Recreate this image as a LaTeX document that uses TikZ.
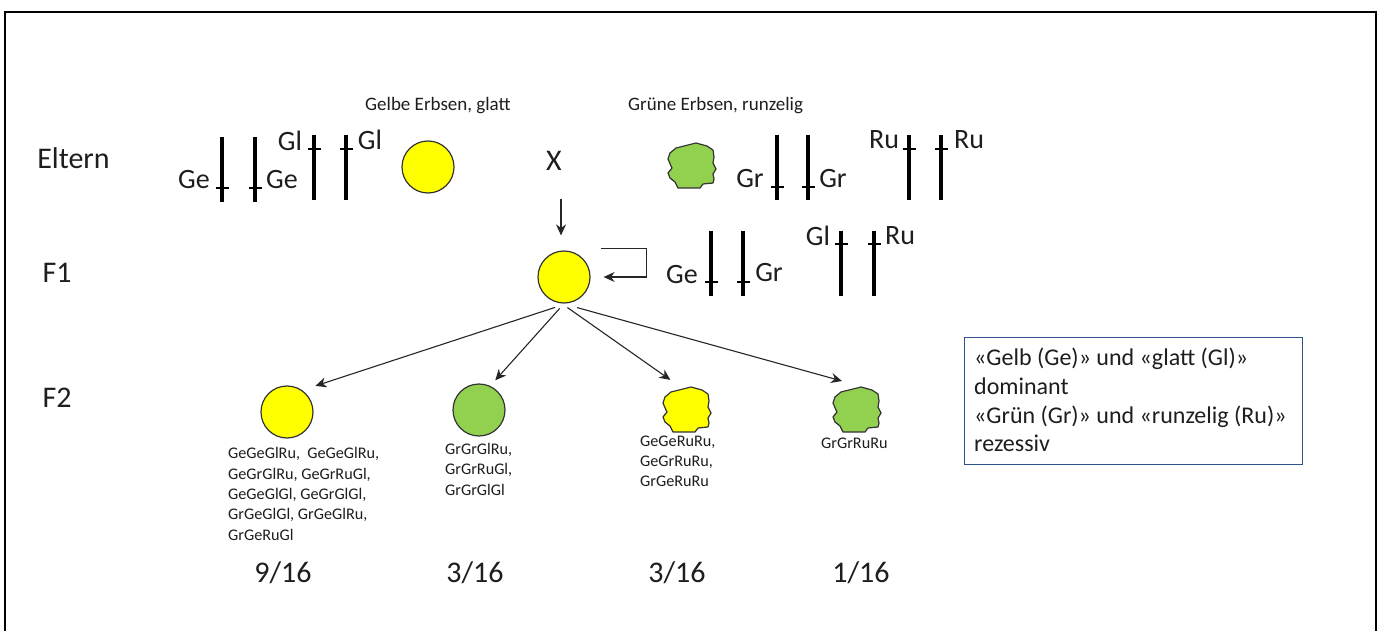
\documentclass[tikz,border=0pt]{standalone}
\usepackage{fontspec}
\setmainfont{Carlito}
\usetikzlibrary{arrows.meta}
\definecolor{leaf}{HTML}{92D050}
\definecolor{peayellow}{HTML}{FFFF00}
\definecolor{ink}{HTML}{1E1E1E}
\definecolor{boxblue}{HTML}{2F528F}
\tikzset{
  x=1pt,y=-1pt,
  big/.style={font=\fontsize{30}{30}\selectfont,text=ink,inner sep=0pt},
  mid/.style={font=\fontsize{28}{28}\selectfont,text=ink,inner sep=0pt},
  small/.style={font=\fontsize{16.2}{20.3}\selectfont,text=ink,inner sep=0pt,align=left,anchor=north west},
  title/.style={font=\fontsize{19}{19}\selectfont,text=ink,inner sep=0pt,anchor=west},
  pea/.style={circle,draw=black!80,line width=1.2pt,minimum size=52pt,inner sep=0pt},
  blobline/.style={draw=black!80,line width=1.2pt,line join=round},
  conn/.style={draw=black!85,line width=1.1pt,-{Stealth[length=11pt,width=10pt]}},
  bar/.style={line width=3.6pt,black},
  tick/.style={line width=1.2pt,black}
}
\newcommand{\chrom}[4]{%
  \draw[bar] (#1,#2) -- ++(0,65);
  \draw[tick] (#1-6.5+#4,#3) -- ++(13,0);
}
\newcommand{\blob}[4]{%
  \node[circle,minimum size=46pt,inner sep=0pt] (#1) at (#2,#3) {};
  \begin{scope}[shift={(#2,#3)}]
    \draw[blobline,fill=#4] (-22,-12) -- (-16,-17) -- (4,-22) -- (15,-19) -- (21,-15) -- (22,-8) -- (21,-2) -- (24,4) -- (21,9) -- (22,14) -- (21,18) -- (11,19) -- (8,23) -- (-14,23) -- (-17,17) -- (-22,13) -- (-24,8) -- (-20,3) -- (-21,1) -- (-24,-6) -- cycle;
  \end{scope}
}
\begin{document}
\begin{tikzpicture}
\useasboundingbox (0,0) rectangle (1379,631);
\fill[white] (0,0) rectangle (1379,631);
\draw[line width=1.4pt,black] (5,640) -- (5,12) -- (1376,12) -- (1376,640);

% row labels
\node[big] (eltern) at (73.5,158) {Eltern};
\node[big] (f1lab) at (57,273) {F1};
\node[big] (f2lab) at (57,398) {F2};

% titles
\node[title] (t1) at (365,105.5) {Gelbe Erbsen, glatt};
\node[title] (t2) at (628,105.5) {Grüne Erbsen, runzelig};

% parents left
\chrom{222}{137}{188}{0}
\chrom{255}{137}{188}{0}
\chrom{314}{135}{149}{0}
\chrom{346}{135}{149}{0}
\node[mid] (a1) at (194,180) {Ge};
\node[mid] (a2) at (282,180) {Ge};
\node[mid] (a3) at (290,141) {Gl};
\node[mid] (a4) at (370,140) {Gl};

% parents right
\chrom{777}{135}{187}{0}
\chrom{808}{135}{187}{0}
\chrom{909}{135}{149}{0}
\chrom{941}{135}{149}{0}
\node[mid] (b1) at (750,179) {Gr};
\node[mid] (b2) at (833,179) {Gr};
\node[mid] (b3) at (884,140) {Ru};
\node[mid] (b4) at (969,140) {Ru};

% F1 chromosomes
\chrom{711}{231}{282}{0}
\chrom{743}{231}{282}{0}
\chrom{841}{231}{244}{0}
\chrom{874}{231}{244}{0}
\node[mid] (c1) at (682,275) {Ge};
\node[mid] (c2) at (769,273) {Gr};
\node[mid] (c3) at (818,236) {Gl};
\node[mid] (c4) at (900,236) {Ru};

% peas
\node[pea,fill=peayellow] (p1) at (428,167) {};
\blob{p2}{692}{165}{leaf}
\node[big] (xlab) at (554,161) {X};
\node[pea,fill=peayellow] (f1) at (564,277) {};
\node[pea,fill=peayellow] (fa) at (287,412) {};
\node[pea,fill=leaf] (fb) at (479,410) {};
\blob{fc}{687}{409}{peayellow}
\blob{fd}{857}{409}{leaf}

% connectors
\coordinate (xa) at (561,199);
\draw[conn,shorten >=15pt] (xa) -- (xa |- f1.north);
\draw[conn] ([xshift=17pt,yshift=11pt]f1.40) -- ++(45,0) |- ([xshift=13pt]f1.east);
\draw[conn,shorten <=12.8pt,shorten >=13.9pt] (f1.277) -- (fa.55);
\draw[conn,shorten <=6.4pt,shorten >=7.5pt] (f1.270) -- (fb.65);
\draw[conn,shorten <=7pt,shorten >=12pt] (f1.265) -- (fc.107);
\draw[conn,shorten <=15pt,shorten >=18.5pt] (f1.267) -- (fd.83);

% genotype lists
\node[small] (ga) at (228,447.5) {GeGeGlRu,\ \ GeGeGlRu,\\GeGrGlRu, GeGrRuGl,\\GeGeGlGl, GeGrGlGl,\\GrGeGlGl, GrGeGlRu,\\GrGeRuGl};
\node[small] (gb) at (445,443) {GrGrGlRu,\\GrGrRuGl,\\GrGrGlGl};
\node[small] (gc) at (640,435.5) {GeGeRuRu,\\GeGrRuRu,\\GrGeRuRu};
\node[small] (gd) at (821,437.5) {GrGrRuRu};

% ratios
\node[big] (r1) at (283,573) {9/16};
\node[big] (r2) at (475,573) {3/16};
\node[big] (r3) at (677,573) {3/16};
\node[big] (r4) at (861,573) {1/16};

% legend
\node[draw=boxblue,line width=1pt,anchor=north west,minimum width=338pt,minimum height=127pt,inner sep=0pt] (legend) at (964,337) {};
\node[anchor=north west,inner sep=0pt,align=left,text=ink,font=\fontsize{24}{28.7}\selectfont] (legtext) at (974,348) {«Gelb (Ge)» und «glatt (Gl)»\\dominant\\«Grün (Gr)» und «runzelig (Ru)»\\rezessiv};
\end{tikzpicture}
\end{document}
